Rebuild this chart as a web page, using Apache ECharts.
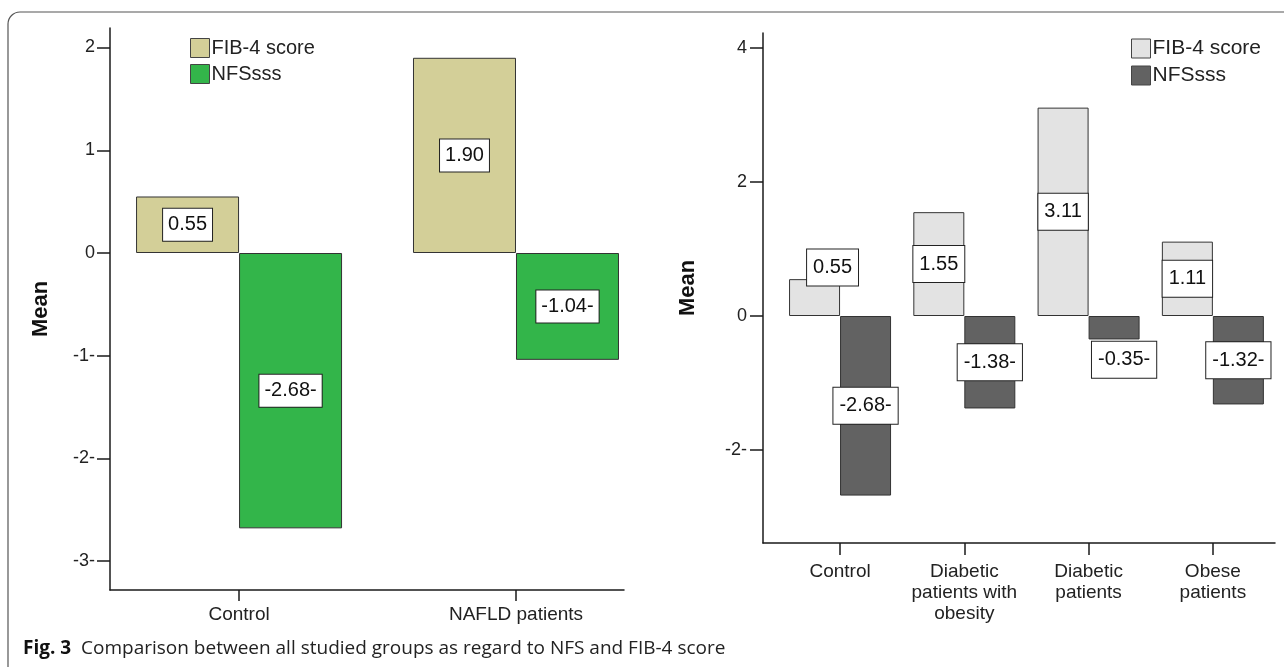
<!DOCTYPE html>
<html>
<head>
<meta charset="utf-8">
<script src="https://cdn.jsdelivr.net/npm/echarts@6/dist/echarts.min.js"></script>
<style>html,body{margin:0;padding:0;background:#fff;}#c{width:1284px;height:667px;}</style>
</head>
<body>
<div id="c"></div>
<script>
// ---- data ----
var leftCategories = ['Control', 'NAFLD patients'];
var leftFib = [0.55, 1.90];
var leftNfs = [-2.68, -1.04];
var leftTicks = [-3, -2, -1, 0, 1, 2];

var rightCategories = ['Control', 'Diabetic\npatients with\nobesity', 'Diabetic\npatients', 'Obese\npatients'];
var rightFib = [0.55, 1.55, 3.11, 1.11];
var rightNfs = [-2.68, -1.38, -0.35, -1.32];
var rightTicks = [-2, 0, 2, 4];

var seriesNames = ['FIB-4 score', 'NFSsss'];
var caption = 'Comparison between all studied groups as regard to NFS and FIB-4 score';

// ---- styling ----
var FONT = '"Liberation Sans", Arial, sans-serif';
var AX = '#1a1a1a';
function fmtVal(v) { var s = v.toFixed(2); return v < 0 ? s + '-' : s; }
function tickFmt(v) { return v < 0 ? v + '-' : String(v); }
function positions(n) { var a = []; for (var i = 1; i <= n; i++) a.push(i); return a; }

function mkData(values, nudges) {
  return values.map(function (v, i) {
    var d = { value: [i + 1, v] };
    if (nudges && nudges[i]) d.label = { offset: nudges[i] };
    return d;
  });
}

function barLabel(pad) {
  return {
    show: true, position: 'inside',
    formatter: function (p) { return fmtVal(p.value[1]); },
    backgroundColor: '#fff', borderColor: '#222', borderWidth: 1,
    padding: pad, fontSize: 20, color: '#111', fontFamily: FONT
  };
}

function xAxisCfg(gi, cats, min, max, tickLen, margin, lh) {
  return {
    type: 'value', gridIndex: gi, min: min, max: max,
    axisLine: { show: true, onZero: false, lineStyle: { color: AX, width: 1.5 } },
    axisTick: { show: true, length: tickLen, lineStyle: { color: AX, width: 1.5 }, customValues: positions(cats.length) },
    axisLabel: {
      show: true, customValues: positions(cats.length), margin: margin,
      formatter: function (v) { return cats[Math.round(v) - 1] || ''; },
      color: '#222', fontSize: 19, fontFamily: FONT, lineHeight: lh, align: 'center'
    },
    splitLine: { show: false }
  };
}
function yAxisCfg(gi, ticks, min, max, nameGap, margin) {
  return {
    type: 'value', gridIndex: gi, min: min, max: max,
    name: 'Mean', nameLocation: 'middle', nameRotate: 90, nameGap: nameGap,
    nameTextStyle: { fontSize: 22, fontWeight: 'bold', color: '#111', fontFamily: FONT },
    axisLine: { show: true, onZero: false, lineStyle: { color: AX, width: 1.5 } },
    axisTick: { show: true, length: 13, lineStyle: { color: AX, width: 1.5 }, customValues: ticks },
    axisLabel: { customValues: ticks, formatter: tickFmt, color: '#222', fontSize: 18, fontFamily: FONT, margin: margin },
    splitLine: { show: false }
  };
}

var leftColors = ['#d3cf98', '#33b54a'];
var rightColors = ['#e3e3e3', '#626262'];

function legendCfg(x, colors, fs) {
  return {
    orient: 'vertical', left: x, top: 38, padding: 0, itemWidth: 19, itemHeight: 19, itemGap: 6,
    icon: 'rect', selectedMode: false,
    textStyle: { fontSize: fs, color: '#222', fontFamily: FONT, padding: [0, 0, 0, -3] },
    data: seriesNames.map(function (n, i) {
      return { name: n, itemStyle: { color: colors[i], borderColor: '#444', borderWidth: 1 } };
    })
  };
}

var option = {
  animation: false,
  backgroundColor: '#fff',
  grid: [
    { left: 110, top: 28, width: 514, height: 562 },
    { left: 763, top: 33, width: 512, height: 510 }
  ],
  xAxis: [
    xAxisCfg(0, leftCategories, 0.534, 2.39, 11, 14, 21),
    xAxisCfg(1, rightCategories, 0.38, 4.5, 12, 18, 21)
  ],
  yAxis: [
    yAxisCfg(0, leftTicks, -3.28, 2.19, 58, 15),
    yAxisCfg(1, rightTicks, -3.388, 4.224, 64, 16)
  ],
  legend: [
    legendCfg(190, leftColors, 20),
    legendCfg(1131, rightColors, 21)
  ],
  series: [
    {
      name: seriesNames[0], type: 'bar', xAxisIndex: 0, yAxisIndex: 0, barWidth: 103, barGap: '0%',
      itemStyle: { color: leftColors[0], borderColor: '#333', borderWidth: 1 },
      label: barLabel([6, 5]), data: mkData(leftFib)
    },
    {
      name: seriesNames[1], type: 'bar', xAxisIndex: 0, yAxisIndex: 0, barWidth: 103, barGap: '0%',
      itemStyle: { color: leftColors[1], borderColor: '#333', borderWidth: 1 },
      label: barLabel([6, 5]), data: mkData(leftNfs)
    },
    {
      name: seriesNames[0], type: 'bar', xAxisIndex: 1, yAxisIndex: 1, barWidth: 51, barGap: '0%',
      itemStyle: { color: rightColors[0], borderColor: '#333', borderWidth: 1 },
      label: barLabel([8, 6]), data: mkData(rightFib, { 0: [18, -30] })
    },
    {
      name: seriesNames[1], type: 'bar', xAxisIndex: 1, yAxisIndex: 1, barWidth: 51, barGap: '0%',
      itemStyle: { color: rightColors[1], borderColor: '#333', borderWidth: 1 },
      label: barLabel([8, 6]), data: mkData(rightNfs, { 2: [10, 32] })
    }
  ],
  graphic: [
    {
      type: 'rect', silent: true,
      shape: { x: 8, y: 12, width: 1400, height: 900, r: 12 },
      style: { fill: 'none', stroke: '#555', lineWidth: 1.2 }
    },
    {
      type: 'text', left: 23, top: 639,
      style: {
        text: '{b|Fig. 3}  ' + caption,
        rich: {
          b: { fontWeight: 'bold', fontSize: 19, fontFamily: '"Open Sans", sans-serif', fill: '#111' }
        },
        fontSize: 19, fontFamily: '"Open Sans", sans-serif', fill: '#222'
      }
    }
  ]
};

var chart = echarts.init(document.getElementById('c'));
chart.setOption(option);
</script>
</body>
</html>
